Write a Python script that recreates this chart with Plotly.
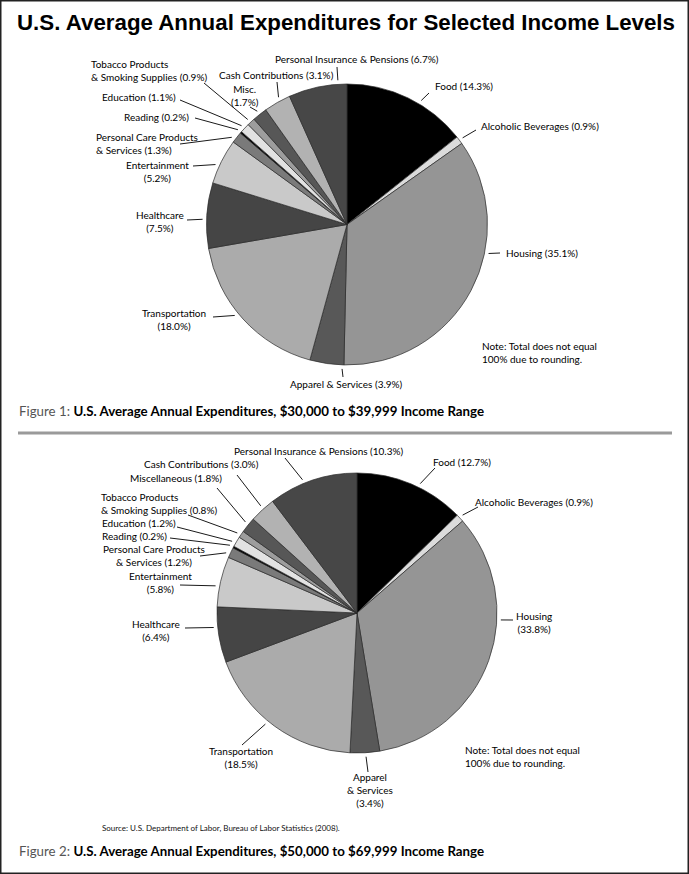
import math
import plotly.graph_objects as go

W, H = 689, 874

# ---------------- data ----------------
categories = ["Food", "Alcoholic Beverages", "Housing", "Apparel & Services",
              "Transportation", "Healthcare", "Entertainment",
              "Personal Care Products & Services", "Reading", "Education",
              "Tobacco Products & Smoking Supplies", "Miscellaneous",
              "Cash Contributions", "Personal Insurance & Pensions"]
values_30k = [14.3, 0.9, 35.1, 3.9, 18.0, 7.5, 5.2, 1.3, 0.2, 1.1, 0.9, 1.7, 3.1, 6.7]
values_50k = [12.7, 0.9, 33.8, 3.4, 18.5, 6.4, 5.8, 1.2, 0.2, 1.2, 0.8, 1.8, 3.0, 10.3]

labels_30k = ["Food", "Alcoholic Beverages", "Housing", "Apparel & Services",
              "Transportation<br>", "Healthcare<br>", "Entertainment<br>",
              "Personal Care Products<br>& Services", "Reading", "Education",
              "Tobacco Products<br>& Smoking Supplies", "Misc.<br>",
              "Cash Contributions", "Personal Insurance & Pensions"]
labels_50k = ["Food", "Alcoholic Beverages", "Housing<br>", "Apparel<br>& Services<br>",
              "Transportation<br>", "Healthcare<br>", "Entertainment<br>",
              "Personal Care Products<br>& Services", "Reading", "Education",
              "Tobacco Products<br>& Smoking Supplies", "Miscellaneous",
              "Cash Contributions", "Personal Insurance & Pensions"]

title = "U.S. Average Annual Expenditures for Selected Income Levels"
fig1_caption = "U.S. Average Annual Expenditures, $30,000 to $39,999 Income Range"
fig2_caption = "U.S. Average Annual Expenditures, $50,000 to $69,999 Income Range"
note_text = "Note: Total does not equal<br>100% due to rounding."
source_text = "Source: U.S. Department of Labor, Bureau of Labor Statistics (2008)."

# ---------------- styles / layout ----------------
colors = ["#000000", "#dcdcdc", "#959595", "#585858", "#ababab", "#454545",
          "#c9c9c9", "#7a7a7a", "#000000", "#e2e2e2", "#9d9d9d", "#575757",
          "#b2b2b2", "#474747"]

LABEL_FONT = "Lato, 'Noto Sans', sans-serif"
LFS = 10

# pie geometry (pixels): center x, center y, radius
PIE1 = (347, 224.5, 140.5)
PIE2 = (357, 613, 140)

# label layout: text x, text y, xanchor, align, line end x, line end y, anchor fraction in slice
LAYOUT1 = [
    (433, 86, "left", "left", 429, 93, 0.60),
    (479, 126, "left", "left", 476, 130, 0.50),
    (504, 253, "left", "left", 500, 253, 0.37),
    (346, 384, "center", "center", 343, 377, 0.05),
    (174, 319, "center", "center", 213, 317, 0.55),
    (160, 221, "center", "center", 187, 220, 0.44),
    (157, 171, "center", "center", 193, 166, 0.39),
    (94, 143, "left", "left", 180, 144, 0.25),
    (191, 117, "right", "left", 195, 118, 0.50),
    (178, 97, "right", "left", 180, 100, 0.45),
    (89, 70, "left", "left", 204, 83, 0.40),
    (245, 95, "center", "center", 250, 107, 0.50),
    (276, 75, "center", "center", 277, 82, 0.63),
    (357, 59, "center", "center", 337, 67, 0.85),
]
LAYOUT2 = [
    (431, 462, "left", "left", 435, 468, 0.57),
    (473, 502, "left", "left", 478, 507, 0.45),
    (534, 622, "center", "center", 513, 620, 0.36),
    (370, 790, "center", "center", 368, 772, 0.47),
    (241, 757, "center", "center", 242, 745, 0.55),
    (156, 630, "center", "center", 185, 628, 0.64),
    (160, 582, "center", "center", 180, 585, 0.40),
    (154, 555, "center", "center", 200, 556, 0.30),
    (100, 536, "left", "left", 170, 538, 0.50),
    (100, 523, "left", "left", 177, 527, 0.33),
    (99, 503, "left", "left", 188, 515, 0.35),
    (128, 478, "left", "left", 217, 488, 0.55),
    (142, 464, "left", "left", 237, 475, 0.55),
    (232, 451, "left", "left", 285, 458, 0.40),
]

fig = go.Figure()


def add_pie(values, pie):
    cx, cy, r = pie
    fig.add_trace(go.Pie(
        labels=categories, values=values, sort=False, direction="clockwise",
        rotation=0, textinfo="none", hoverinfo="label+value",
        marker=dict(colors=colors, line=dict(color="#2a2a2a", width=0.7)),
        domain=dict(x=[(cx - r) / W, (cx + r) / W],
                    y=[1 - (cy + r) / H, 1 - (cy - r) / H]),
        showlegend=False,
    ))


def add_labels(values, labels, layout, pie):
    cx, cy, r = pie
    total = sum(values)
    cum = 0.0
    for v, lab, (tx, ty, xa, al, lx, ly, frac) in zip(values, labels, layout):
        ang = 2 * math.pi * (cum + frac * v) / total
        cum += v
        ex = cx + (r + 4) * math.sin(ang)
        ey = cy - (r + 4) * math.cos(ang)
        fig.add_shape(type="line", xref="x", yref="y", x0=ex, y0=ey, x1=lx, y1=ly,
                      line=dict(color="#1a1a1a", width=1))
        sep = "" if lab.endswith("<br>") else " "
        fig.add_annotation(x=tx, y=ty, xref="x", yref="y",
                           text=f"{lab}{sep}({v:.1f}%)", showarrow=False,
                           xanchor=xa, yanchor="middle", align=al,
                           font=dict(family=LABEL_FONT, size=LFS, color="#000"))


add_pie(values_30k, PIE1)
add_pie(values_50k, PIE2)
add_labels(values_30k, labels_30k, LAYOUT1, PIE1)
add_labels(values_50k, labels_50k, LAYOUT2, PIE2)

# title
fig.add_annotation(x=346, y=22, xref="x", yref="y", text=f"<b>{title}</b>",
                   showarrow=False, xanchor="center", yanchor="middle",
                   font=dict(family="'Liberation Sans', Arial, sans-serif",
                             size=22.3, color="#000"))
# notes
for nx, ny in [(480, 352), (463, 756)]:
    fig.add_annotation(x=nx, y=ny, xref="x", yref="y", text=note_text, showarrow=False,
                       xanchor="left", yanchor="middle", align="left",
                       font=dict(family=LABEL_FONT, size=LFS, color="#000"))
# captions
for cy_, num, cap in [(411, 1, fig1_caption), (851, 2, fig2_caption)]:
    fig.add_annotation(x=17, y=cy_, xref="x", yref="y",
                       text=f"<span style='color:#555'>Figure {num}:</span> <b>{cap}</b>",
                       showarrow=False, xanchor="left", yanchor="middle",
                       font=dict(family=LABEL_FONT, size=13.3, color="#000"))
# source
fig.add_annotation(x=100, y=828, xref="x", yref="y", text=source_text, showarrow=False,
                   xanchor="left", yanchor="middle",
                   font=dict(family=LABEL_FONT, size=8, color="#111"))

# separator and frame
fig.add_shape(type="line", xref="x", yref="y", x0=18, x1=672, y0=433, y1=433,
              line=dict(color="#9a9a9a", width=3))
fig.add_shape(type="rect", xref="paper", yref="paper", x0=0, x1=1, y0=0, y1=1,
              line=dict(color="#222", width=3))

fig.update_layout(
    width=W, height=H, margin=dict(l=0, r=0, t=0, b=0),
    paper_bgcolor="white", plot_bgcolor="rgba(0,0,0,0)",
    xaxis=dict(range=[0, W], visible=False, fixedrange=True),
    yaxis=dict(range=[H, 0], visible=False, fixedrange=True),
)

fig.write_html("out.html", config={"displayModeBar": False},
               post_script="document.body.style.margin='0';document.body.style.padding='0';"
                           "document.body.style.overflow='hidden';")
